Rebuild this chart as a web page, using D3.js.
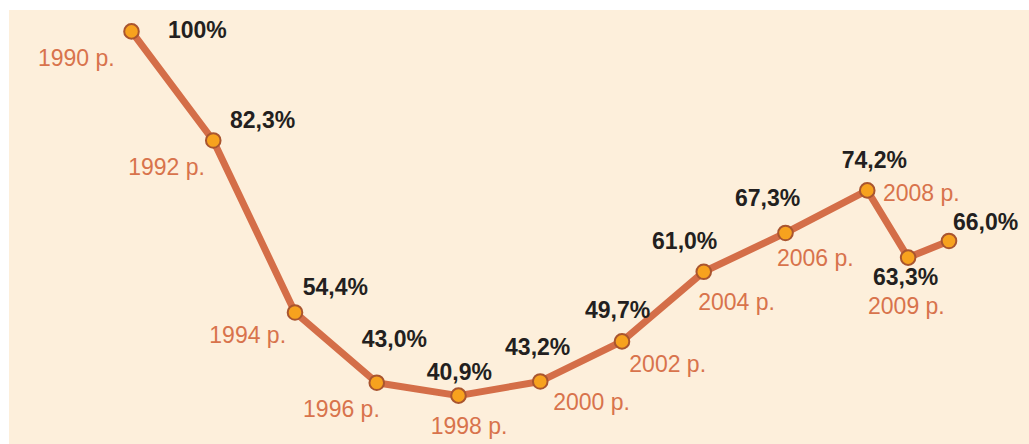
<!DOCTYPE html>
<html>
<head>
<meta charset="utf-8">
<script src="https://cdn.jsdelivr.net/npm/d3@7"></script>
<style>
  html, body { margin: 0; padding: 0; background: #ffffff; }
  svg { display: block; }
</style>
</head>
<body>
<svg id="chart" width="1029" height="444"></svg>
<script>
// ---- Data ----
const years = [1990, 1992, 1994, 1996, 1998, 2000, 2002, 2004, 2006, 2008, 2009, 2010];
const values = [100, 82.3, 54.4, 43.0, 40.9, 43.2, 49.7, 61.0, 67.3, 74.2, 63.3, 66.0];
const valueLabels = ["100%", "82,3%", "54,4%", "43,0%", "40,9%", "43,2%", "49,7%", "61,0%", "67,3%", "74,2%", "63,3%", "66,0%"];
const yearLabels = ["1990 р.", "1992 р.", "1994 р.", "1996 р.", "1998 р.", "2000 р.", "2002 р.", "2004 р.", "2006 р.", "2008 р.", "2009 р.", ""];

// ---- Label placement (offsets from point, in px) ----
const valueOffsets = [[36.5, 6.6], [16.7, -12.5], [7.7, -17.5], [-15, -35.7], [-31.8, -15.7], [-35.2, -26.5], [-37, -23.4], [-51.7, -22.8], [-50.5, -27], [-25.5, -22.4], [-35.1, 27.4], [4, -11]];
const yearOffsets  = [[-93.5, 34.6], [-85, 34.5], [-85.7, 30.5], [-73.7, 34.3], [-27.8, 38.3], [13, 28.5], [7.3, 30.6], [-5.5, 38.2], [-8.5, 33], [15.7, 10.6], [-40.1, 56.4], [0, 0]];

const svg = d3.select("#chart");
const W = 1029, H = 444;

// background panel
svg.append("rect").attr("x", 9).attr("y", 10).attr("width", W - 9).attr("height", H - 10)
  .attr("fill", "#fdefdb");

const x = d3.scaleLinear().domain([1990, 2010]).range([131.5, 949]);
const y = d3.scaleLinear().domain([40, 100]).range([401.2, 31.4]);

const data = years.map((yr, i) => ({ yr, v: values[i], vl: valueLabels[i], yl: yearLabels[i], vo: valueOffsets[i], yo: yearOffsets[i] }));

const line = d3.line().x(d => x(d.yr)).y(d => y(d.v));

svg.append("path").datum(data)
  .attr("d", line)
  .attr("fill", "none")
  .attr("stroke", "#d46e48")
  .attr("stroke-width", 7)
  .attr("stroke-linejoin", "round")
  .attr("stroke-linecap", "round");

svg.selectAll("circle.pt").data(data).join("circle")
  .attr("class", "pt")
  .attr("cx", d => x(d.yr))
  .attr("cy", d => y(d.v))
  .attr("r", 7.3)
  .attr("fill", "#f7a21e")
  .attr("stroke", "#a9552f")
  .attr("stroke-width", 2);

svg.selectAll("text.val").data(data).join("text")
  .attr("class", "val")
  .attr("x", d => x(d.yr) + d.vo[0])
  .attr("y", d => y(d.v) + d.vo[1])
  .attr("font-family", "Liberation Sans, Arial, sans-serif")
  .attr("font-weight", "bold")
  .attr("font-size", 23)
  .attr("fill", "#231f20")
  .text(d => d.vl);

svg.selectAll("text.yr").data(data.filter(d => d.yl)).join("text")
  .attr("class", "yr")
  .attr("x", d => x(d.yr) + d.yo[0])
  .attr("y", d => y(d.v) + d.yo[1])
  .attr("font-family", "Liberation Sans, Arial, sans-serif")
  .attr("font-size", 23)
  .attr("fill", "#d8734c")
  .text(d => d.yl);
</script>
</body>
</html>
